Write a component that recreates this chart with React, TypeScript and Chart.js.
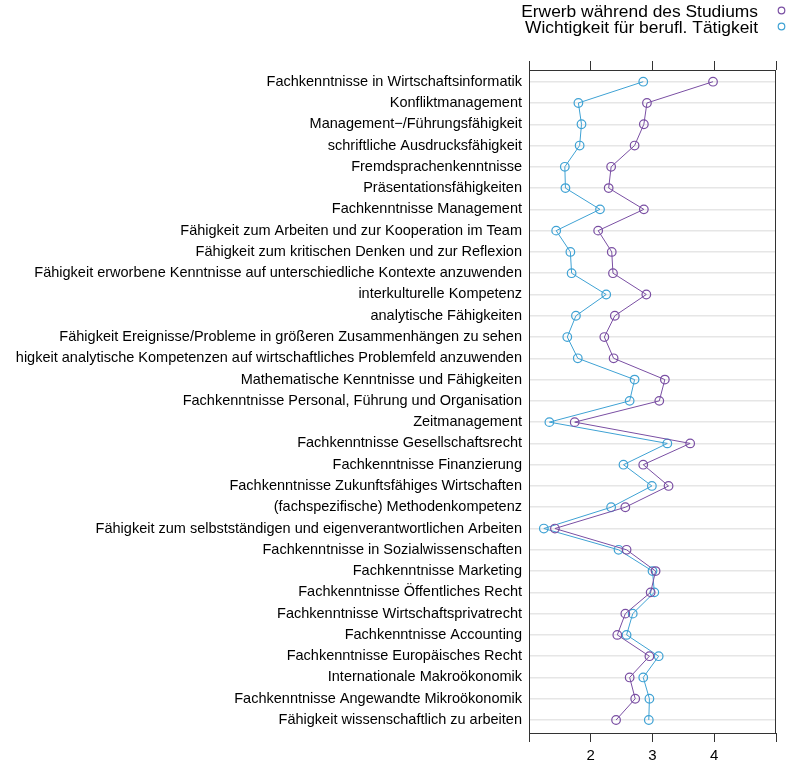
import React, { useEffect, useRef } from "react";
import { Chart, registerables } from "chart.js";

Chart.register(...registerables);

const categories: string[] = [
  "Fachkenntnisse in Wirtschaftsinformatik",
  "Konfliktmanagement",
  "Management−/Führungsfähigkeit",
  "schriftliche Ausdrucksfähigkeit",
  "Fremdsprachenkenntnisse",
  "Präsentationsfähigkeiten",
  "Fachkenntnisse Management",
  "Fähigkeit zum Arbeiten und zur Kooperation im Team",
  "Fähigkeit zum kritischen Denken und zur Reflexion",
  "Fähigkeit erworbene Kenntnisse auf unterschiedliche Kontexte anzuwenden",
  "interkulturelle Kompetenz",
  "analytische Fähigkeiten",
  "Fähigkeit Ereignisse/Probleme in größeren Zusammenhängen zu sehen",
  "Fähigkeit analytische Kompetenzen auf wirtschaftliches Problemfeld anzuwenden",
  "Mathematische Kenntnisse und Fähigkeiten",
  "Fachkenntnisse Personal, Führung und Organisation",
  "Zeitmanagement",
  "Fachkenntnisse Gesellschaftsrecht",
  "Fachkenntnisse Finanzierung",
  "Fachkenntnisse Zukunftsfähiges Wirtschaften",
  "(fachspezifische) Methodenkompetenz",
  "Fähigkeit zum selbstständigen und eigenverantwortlichen Arbeiten",
  "Fachkenntnisse in Sozialwissenschaften",
  "Fachkenntnisse Marketing",
  "Fachkenntnisse Öffentliches Recht",
  "Fachkenntnisse Wirtschaftsprivatrecht",
  "Fachkenntnisse Accounting",
  "Fachkenntnisse Europäisches Recht",
  "Internationale Makroökonomik",
  "Fachkenntnisse Angewandte Mikroökonomik",
  "Fähigkeit wissenschaftlich zu arbeiten",
];

const erwerb: number[] = [
  3.98, 2.91, 2.86, 2.71, 2.33, 2.29, 2.86, 2.12, 2.34, 2.36, 2.9, 2.39, 2.22,
  2.37, 3.2, 3.11, 1.74, 3.61, 2.85, 3.26, 2.56, 1.42, 2.58, 3.05, 2.97, 2.56,
  2.43, 2.95, 2.63, 2.72, 2.41,
];

const wichtigkeit: number[] = [
  2.85, 1.8, 1.85, 1.82, 1.58, 1.59, 2.15, 1.44, 1.67, 1.69, 2.25, 1.76, 1.62,
  1.79, 2.71, 2.63, 1.33, 3.24, 2.53, 2.99, 2.33, 1.24, 2.45, 3.0, 3.03, 2.68,
  2.58, 3.1, 2.85, 2.95, 2.94,
];

const seriesNames: string[] = [
  "Erwerb während des Studiums",
  "Wichtigkeit für berufl. Tätigkeit",
];

const xTickLabels: number[] = [2, 3, 4];

const PURPLE = "#7A4FA3";
const BLUE = "#3FA2D4";
const FONT = "'Liberation Sans', Arial, Helvetica, sans-serif";

export default function App() {
  const ref = useRef<HTMLCanvasElement | null>(null);

  useEffect(() => {
    if (!ref.current) return;

    const boxPlugin = {
      id: "boxPlugin",
      afterDraw(chart: any) {
        const { ctx, chartArea } = chart;
        ctx.save();
        ctx.strokeStyle = "#333333";
        ctx.lineWidth = 1;
        ctx.strokeRect(
          Math.round(chartArea.left) + 0.5,
          Math.round(chartArea.top) + 0.5,
          Math.round(chartArea.right - chartArea.left) - 1,
          Math.round(chartArea.bottom - chartArea.top)
        );
        ctx.restore();
      },
    };

    const legendPlugin = {
      id: "customLegend",
      afterDraw(chart: any) {
        const { ctx } = chart;
        ctx.save();
        ctx.font = `17.4px ${FONT}`;
        ctx.textAlign = "right";
        ctx.textBaseline = "middle";
        ctx.fillStyle = "#000";
        const cols = [PURPLE, BLUE];
        const ys = [12, 28];
        seriesNames.forEach((name, i) => {
          ctx.fillText(name, 742, ys[i]);
          ctx.beginPath();
          ctx.strokeStyle = cols[i];
          ctx.lineWidth = 1.2;
          ctx.arc(765.5, ys[i] - 1.5, 3.3, 0, Math.PI * 2);
          ctx.stroke();
        });
        ctx.restore();
      },
    };

    const mk = (arr: number[]) => arr.map((v, i) => ({ x: v, y: i }));

    const chart = new Chart(ref.current, {
      type: "scatter",
      data: {
        datasets: [
          {
            label: seriesNames[0],
            data: mk(erwerb),
            showLine: true,
            borderColor: PURPLE,
            borderWidth: 1,
            pointBorderColor: PURPLE,
            pointBackgroundColor: "rgba(0,0,0,0)",
            pointRadius: 4.3,
            pointBorderWidth: 1.2,
            xAxisID: "x",
            yAxisID: "y",
          },
          {
            label: seriesNames[1],
            data: mk(wichtigkeit),
            showLine: true,
            borderColor: BLUE,
            borderWidth: 1,
            pointBorderColor: BLUE,
            pointBackgroundColor: "rgba(0,0,0,0)",
            pointRadius: 4.3,
            pointBorderWidth: 1.2,
            xAxisID: "x",
            yAxisID: "y",
          },
        ],
      },
      options: {
        animation: false,
        responsive: false,
        maintainAspectRatio: false,
        layout: { padding: { top: 0, left: 0, right: 10, bottom: 0 } },
        plugins: {
          legend: { display: false },
          tooltip: { enabled: false },
        },
        scales: {
          x: {
            type: "linear",
            position: "bottom",
            min: 1,
            max: 5,
            ticks: {
              stepSize: 1,
              padding: 5,
              color: "#000",
              font: { family: FONT, size: 15 },
              callback: (v: any) =>
                xTickLabels.includes(Number(v)) ? String(v) : "",
              maxRotation: 0,
            },
            grid: {
              drawOnChartArea: false,
              drawTicks: true,
              tickLength: 9,
              color: "#333333",
            },
            border: { display: false },
            afterFit: (s: any) => {
              s.height = 28;
            },
          },
          x2: {
            type: "linear",
            position: "top",
            min: 1,
            max: 5,
            ticks: {
              stepSize: 1,
              display: true,
              callback: () => "",
            },
            grid: {
              drawOnChartArea: false,
              drawTicks: true,
              tickLength: 9,
              color: "#333333",
            },
            border: { display: false },
            afterFit: (s: any) => {
              s.height = 70;
            },
          },
          y: {
            type: "linear",
            reverse: true,
            min: -0.55,
            max: 30.61,
            afterBuildTicks: (s: any) => {
              s.ticks = categories.map((_, i) => ({ value: i }));
            },
            ticks: {
              autoSkip: false,
              padding: 7,
              color: "#000",
              font: { family: FONT, size: 14.5 },
              callback: (v: any) => categories[Number(v)] ?? "",
            },
            grid: {
              drawTicks: false,
              color: "#e6e6e6",
              lineWidth: 1.5,
            },
            border: { display: false },
            afterFit: (s: any) => {
              s.width = 513;
            },
          },
        },
      },
      plugins: [boxPlugin, legendPlugin],
    } as any);

    return () => chart.destroy();
  }, []);

  return (
    <div
      style={{
        position: "fixed",
        left: 16,
        top: 0,
        width: 770,
        height: 761,
        background: "#fff",
      }}
    >
      <canvas
        ref={ref}
        width={770}
        height={761}
        style={{ width: 770, height: 761, display: "block" }}
      />
    </div>
  );
}
